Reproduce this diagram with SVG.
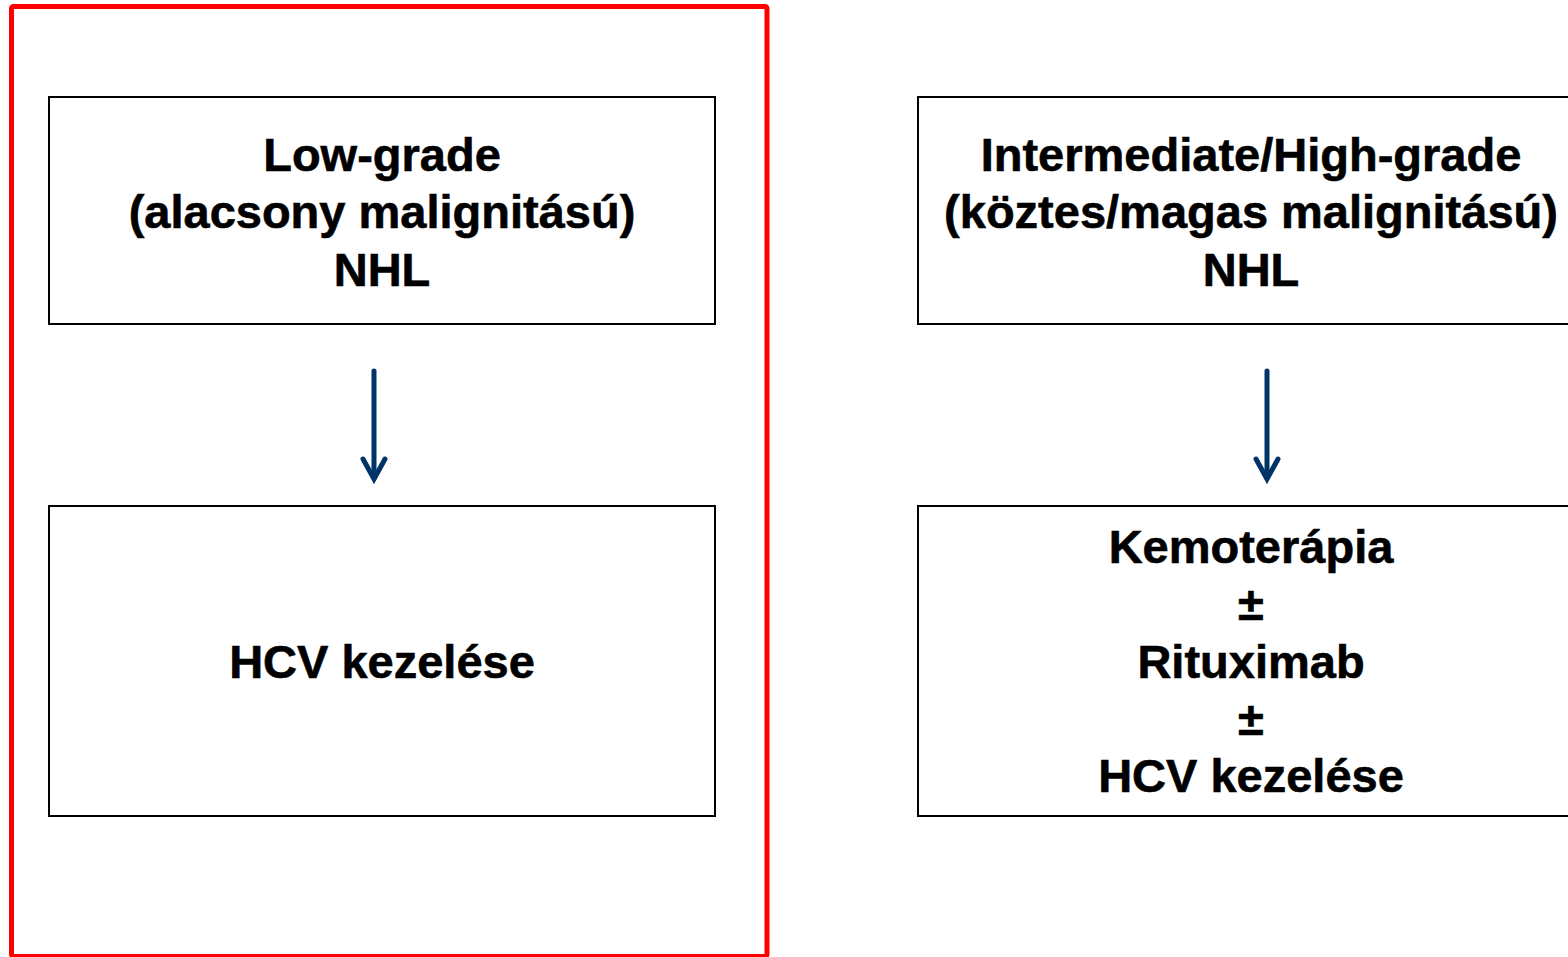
<svg xmlns="http://www.w3.org/2000/svg" width="1568" height="957" viewBox="0 0 1568 957">
<style>
.box{fill:#fff;stroke:#000;stroke-width:2}
.t{font-family:"Liberation Sans",Arial,sans-serif;font-weight:bold;font-size:47px;fill:#000;stroke:#000;stroke-width:0.6;text-anchor:middle}
.arr{stroke:#003366;stroke-width:5;fill:none;stroke-linecap:round;stroke-linejoin:miter}
</style>
<rect width="1568" height="957" fill="#fff"/>
<g id="frame"><rect x="11.5" y="6.5" width="755.5" height="950" fill="none" stroke="#ff0000" stroke-width="5" rx="2"/></g>
<g id="node-lowgrade">
<rect class="box" x="49" y="97" width="666" height="227"/>
<text class="t" x="382" y="171">Low-grade</text>
<text class="t" x="382" y="228">(alacsony malignitású)</text>
<text class="t" x="382" y="286">NHL</text>
</g>
<g id="node-hcv">
<rect class="box" x="49" y="506" width="666" height="310"/>
<text class="t" x="382" y="678">HCV kezelése</text>
</g>
<g id="node-highgrade">
<rect class="box" x="918" y="97" width="666" height="227"/>
<text class="t" x="1251" y="171">Intermediate/High-grade</text>
<text class="t" x="1251" y="228">(köztes/magas malignitású)</text>
<text class="t" x="1251" y="286">NHL</text>
</g>
<g id="node-chemo">
<rect class="box" x="918" y="506" width="666" height="310"/>
<text class="t" x="1251" y="563">Kemoterápia</text>
<text class="t" x="1251" y="620">±</text>
<text class="t" x="1251" y="678">Rituximab</text>
<text class="t" x="1251" y="735">±</text>
<text class="t" x="1251" y="792">HCV kezelése</text>
</g>
<g id="connectors">
<path class="arr" d="M374 371 V478"/>
<path class="arr" d="M363 459 L374 479 L385 459"/>
<path class="arr" d="M1267 371 V478"/>
<path class="arr" d="M1256 459 L1267 479 L1278 459"/>
</g>
</svg>
